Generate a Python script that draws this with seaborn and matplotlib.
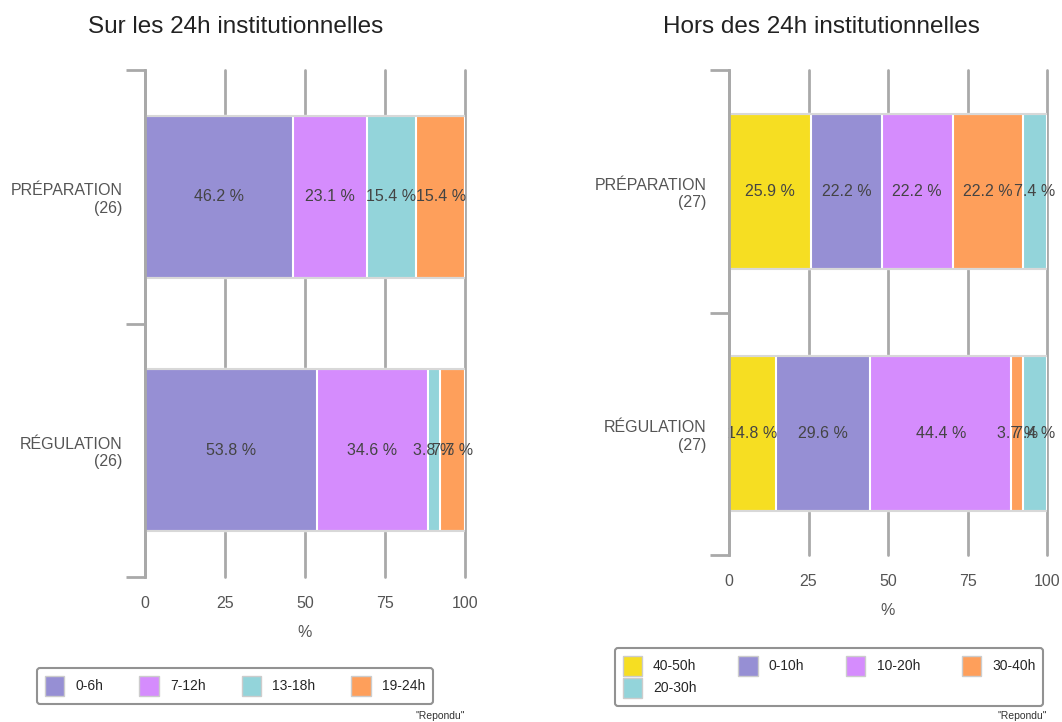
import pandas as pd
import matplotlib
matplotlib.use("Agg")
import matplotlib.pyplot as plt
from matplotlib.patches import Patch
import seaborn as sns

# Sur les 24h institutionnelles
left_cats = ["PRÉPARATION\n(26)", "RÉGULATION\n(26)"]
left_series = ["0-6h", "7-12h", "13-18h", "19-24h"]
left_prep = [46.2, 23.1, 15.4, 15.4]
left_regu = [53.8, 34.6, 3.8, 7.7]

# Hors des 24h institutionnelles
right_cats = ["PRÉPARATION\n(27)", "RÉGULATION\n(27)"]
right_series = ["40-50h", "0-10h", "10-20h", "30-40h", "20-30h"]
right_prep = [25.9, 22.2, 22.2, 22.2, 7.4]
right_regu = [14.8, 29.6, 44.4, 3.7, 7.4]

x_ticks = [0, 25, 50, 75, 100]

colors = {
    "0-6h": "#968fd4", "7-12h": "#d58cfd", "13-18h": "#93d4da", "19-24h": "#fe9f5b",
    "40-50h": "#f6de22", "0-10h": "#968fd4", "10-20h": "#d58cfd",
    "30-40h": "#fe9f5b", "20-30h": "#93d4da",
}

sns.set_style("white")
plt.rcParams["font.family"] = ["Liberation Sans", "DejaVu Sans"]

GRAY = "#a9a9a9"
TXT = "#444444"


def draw_panel(ax, cats, series, rows):
    df = pd.DataFrame(rows, index=cats, columns=series)
    cum = df.cumsum(axis=1)
    # stacked bars: draw cumulative totals from the largest down
    for s in reversed(series):
        d = pd.DataFrame({"cat": cats, "val": cum[s].values})
        sns.barplot(data=d, x="val", y="cat", order=cats, orient="h",
                    width=0.64, color=colors[s], saturation=1,
                    edgecolor="white", linewidth=1.5, ax=ax)
    for i, cat in enumerate(cats):
        for s in series:
            v = df.loc[cat, s]
            mid = cum.loc[cat, s] - v / 2
            ax.text(mid, i, f"{v:.1f} %", ha="center", va="center",
                    fontsize=11.5, color=TXT, zorder=5)
        ax.hlines([i - 0.32, i + 0.32], 0, 100, color="#d8d8d8", lw=1.5, zorder=4)

    ax.set_xlim(0, 100)
    ax.set_ylim(1.5, -0.5)
    ax.set_xticks(x_ticks)
    ax.set_axisbelow(True)
    ax.xaxis.grid(True, color=GRAY, lw=2)
    ax.yaxis.grid(False)
    for line in ax.get_xgridlines():
        line.set_clip_on(False)
    for sp in ["top", "right", "bottom"]:
        ax.spines[sp].set_visible(False)
    ax.spines["left"].set_color(GRAY)
    ax.spines["left"].set_linewidth(2)
    ax.spines["left"].set_zorder(6)
    ax.set_yticks([-0.5, 0.5, 1.5], minor=True)
    ax.tick_params(axis="y", which="minor", left=True, length=14, width=2, color=GRAY)
    ax.tick_params(axis="y", which="major", left=False, length=0, pad=16,
                   labelsize=11.5, labelcolor="#555555")
    for lab in ax.get_yticklabels():
        lab.set_multialignment("right")
    ax.tick_params(axis="x", length=0, pad=14, labelsize=11.5, labelcolor="#555555")
    ax.set_ylabel("")
    ax.set_xlabel("%", fontsize=11.5, color="#555555", labelpad=10)


fig = plt.figure(figsize=(10.62, 7.22), dpi=100)
W, H = 1062, 722

ax1 = fig.add_axes([145 / W, 1 - 577 / H, 320 / W, 507 / H])
draw_panel(ax1, left_cats, left_series, [left_prep, left_regu])

ax2 = fig.add_axes([729 / W, 1 - 555 / H, 318 / W, 485 / H])
draw_panel(ax2, right_cats, right_series, [right_prep, right_regu])

fig.text(236 / W, 1 - 27 / H, "Sur les 24h institutionnelles",
         ha="center", va="center", fontsize=17.5, color="#222222")
fig.text(821 / W, 1 - 27 / H, "Hors des 24h institutionnelles",
         ha="center", va="center", fontsize=17.5, color="#222222")

# legends
h1 = [Patch(facecolor=colors[s], edgecolor="#cccccc", label=s) for s in left_series]
leg1 = fig.legend(handles=h1, ncol=4, loc="center", bbox_to_anchor=(235 / W, 1 - 686 / H),
                  fontsize=10, frameon=True, fancybox=True, edgecolor="#777777",
                  handlelength=1.4, handleheight=1.9, columnspacing=2.6,
                  borderpad=0.55)
leg1.get_frame().set_linewidth(1.5)

order = ["40-50h", "20-30h", "0-10h", "10-20h", "30-40h"]
h2 = [Patch(facecolor=colors[s], edgecolor="#cccccc", label=s) for s in order]
leg2 = fig.legend(handles=h2, ncol=4, loc="center", bbox_to_anchor=(829 / W, 1 - 677 / H),
                  fontsize=10, frameon=True, fancybox=True, edgecolor="#777777",
                  handlelength=1.4, handleheight=1.9, columnspacing=3.0,
                  borderpad=0.55, labelspacing=0.1)
leg2.get_frame().set_linewidth(1.5)

fig.text(465 / W, 1 - 716 / H, "\"Repondu\"", ha="right", va="center", fontsize=7.5, color="#333333")
fig.text(1047 / W, 1 - 716 / H, "\"Repondu\"", ha="right", va="center", fontsize=7.5, color="#333333")

fig.savefig("out.png", dpi=100)
